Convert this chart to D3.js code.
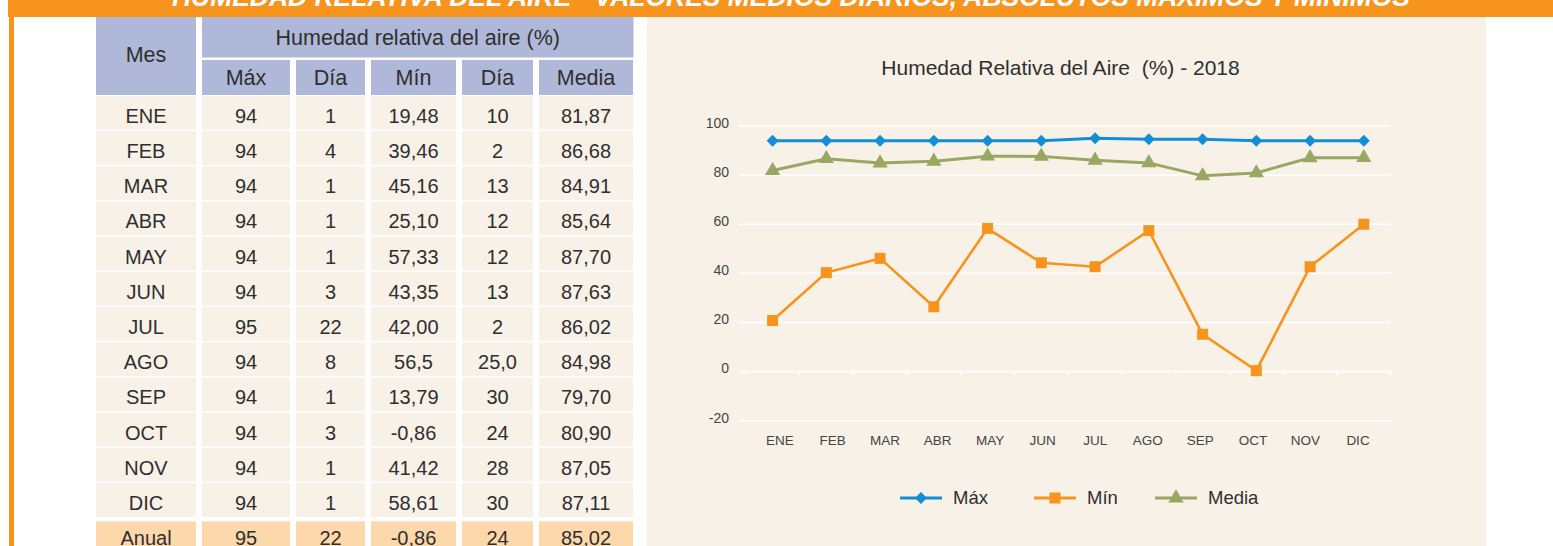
<!DOCTYPE html>
<html>
<head>
<meta charset="utf-8">
<script src="https://cdn.jsdelivr.net/npm/d3@7"></script>
<style>
html,body{margin:0;padding:0;background:#fff;}
svg{display:block;}
text{font-family:"Liberation Sans",Arial,sans-serif;white-space:pre;}
</style>
</head>
<body>
<svg id="c" width="1553" height="546"></svg>
<script>
// ---------- DATA ----------
const months = ["ENE","FEB","MAR","ABR","MAY","JUN","JUL","AGO","SEP","OCT","NOV","DIC"];
// table columns (as printed)
const tabMax   = ["94","94","94","94","94","94","95","94","94","94","94","94"];
const tabMaxDay= ["1","4","1","1","1","3","22","8","1","3","1","1"];
const tabMin   = ["19,48","39,46","45,16","25,10","57,33","43,35","42,00","56,5","13,79","-0,86","41,42","58,61"];
const tabMinDay= ["10","2","13","12","12","13","2","25,0","30","24","28","30"];
const tabMedia = ["81,87","86,68","84,91","85,64","87,70","87,63","86,02","84,98","79,70","80,90","87,05","87,11"];
const annualRow = ["Anual","95","22","-0,86","24","85,02"];
const headerCols = ["Máx","Día","Mín","Día","Media"];
// chart series
const serMax   = [94,94,94,94,94,94,95,94.6,94.6,94,94,94];
const serMin   = [20.8,40.3,46.1,26.4,58.3,44.3,42.7,57.4,15.2,0.4,42.7,60];
const serMedia = [81.87,86.68,84.91,85.64,87.70,87.63,86.02,84.98,79.70,80.90,87.05,87.11];
const yTicks = [-20,0,20,40,60,80,100];
const seriesNames = ["Máx","Mín","Media"];

// ---------- STYLE ----------
const ORANGE = "#F7941D";
const BLUE = "#128ED6";
const GREEN = "#98A862";
const HEAD = "#AFB8D8";
const ROWBG = "#F8F1E7";
const ANNUAL = "#FDD8AA";
const TXT = "#2f2f2f";

const svg = d3.select("#c");

// Banner
svg.append("rect").attr("x",8).attr("y",0).attr("width",1545).attr("height",17).attr("fill",ORANGE);
svg.append("text").attr("x",172).attr("y",5.5)
  .attr("textLength",1238).attr("lengthAdjust","spacingAndGlyphs")
  .attr("fill","#fff").attr("font-weight","bold").attr("font-style","italic")
  .attr("font-size",27)
  .text("HUMEDAD RELATIVA DEL AIRE - VALORES MEDIOS DIARIOS, ABSOLUTOS MÁXIMOS Y MÍNIMOS");
// left border
svg.append("rect").attr("x",9).attr("y",17).attr("width",5).attr("height",529).attr("fill",ORANGE);

// ---------- TABLE ----------
const colX = [96,202,296,371,462,539];
const colW = [100,88,69,85,71,94];
const rowTop = 96, rowPitch = 35.2, rowH = 33.7;
const tbl = svg.append("g");
// header
tbl.append("rect").attr("x",colX[0]).attr("y",17).attr("width",colW[0]).attr("height",78).attr("fill",HEAD);
tbl.append("rect").attr("x",202).attr("y",17).attr("width",633.5-202).attr("height",40.5).attr("fill",HEAD);
tbl.append("text").attr("x",colX[0]+colW[0]/2).attr("y",62).attr("text-anchor","middle")
  .attr("font-size",21.5).attr("fill",TXT).text("Mes");
tbl.append("text").attr("x",(202+633.5)/2).attr("y",44.5).attr("text-anchor","middle")
  .attr("font-size",21.5).attr("fill",TXT).text("Humedad relativa del aire (%)");
headerCols.forEach((h,i)=>{
  const j=i+1;
  tbl.append("rect").attr("x",colX[j]).attr("y",60).attr("width",colW[j]).attr("height",35).attr("fill",HEAD);
  tbl.append("text").attr("x",colX[j]+colW[j]/2).attr("y",85).attr("text-anchor","middle")
    .attr("font-size",21.5).attr("fill",TXT).text(h);
});
const rows = months.map((m,i)=>[m,tabMax[i],tabMaxDay[i],tabMin[i],tabMinDay[i],tabMedia[i]]);
rows.push(annualRow);
rows.forEach((r,ri)=>{
  const y = rowTop + ri*rowPitch;
  const last = ri===rows.length-1;
  r.forEach((v,ci)=>{
    tbl.append("rect").attr("x",colX[ci]).attr("y",last?y+3:y).attr("width",colW[ci]).attr("height",last?40:rowH)
      .attr("fill",last?ANNUAL:ROWBG);
    tbl.append("text").attr("x",colX[ci]+colW[ci]/2).attr("y",y+rowH/2+10)
      .attr("text-anchor","middle").attr("font-size",20).attr("fill",TXT).text(v);
  });
});

// ---------- CHART ----------
svg.append("rect").attr("x",647).attr("y",17).attr("width",1486-647).attr("height",529).attr("fill",ROWBG);
svg.append("text").attr("x",1060.5).attr("y",75).attr("text-anchor","middle")
  .attr("font-size",21).attr("fill",TXT).text("Humedad Relativa del Aire  (%) - 2018");

const y = d3.scaleLinear().domain([-20,100]).range([420.7,126]);
const x = d3.scaleBand().domain(months).range([745.7,1390.7]).padding(0);
const xl = d3.scalePoint().domain(months).range([780,1358]);
const cx = m => x(m)+x.bandwidth()/2;

const grid = svg.append("g");
yTicks.forEach(t=>{
  grid.append("line").attr("x1",739).attr("x2",1391).attr("y1",y(t)).attr("y2",y(t))
    .attr("stroke","#fff").attr("stroke-width",1.5);
  grid.append("text").attr("x",729).attr("y",y(t)-3).attr("dy","0.35em").attr("text-anchor","end")
    .attr("font-size",14).attr("fill","#444").text(t);
});
// category ticks on 0 line
const bounds = months.map(m=>x(m)).concat([x.range()[1]]);
bounds.forEach(b=>{
  grid.append("line").attr("x1",b).attr("x2",b).attr("y1",y(0)).attr("y2",y(0)+4)
    .attr("stroke","#fff").attr("stroke-width",1.5);
});
months.forEach(m=>{
  grid.append("text").attr("x",xl(m)).attr("y",445).attr("text-anchor","middle")
    .attr("font-size",13.5).attr("fill","#444").text(m);
});

const line = d3.line().x((d,i)=>cx(months[i])).y(d=>y(d));
const sym = {
  diamond: d3.symbol().type(d3.symbolDiamond2).size(90),
  square: d3.symbol().type(d3.symbolSquare).size(121),
  triangle: d3.symbol().type(d3.symbolTriangle).size(100)
};
function series(data,color,width,s){
  const g = svg.append("g");
  g.append("path").attr("d",line(data)).attr("fill","none").attr("stroke",color).attr("stroke-width",width);
  data.forEach((d,i)=>{
    g.append("path").attr("d",s()).attr("transform",`translate(${cx(months[i])},${y(d)})`).attr("fill",color);
  });
}
series(serMedia,GREEN,3,sym.triangle);
series(serMin,ORANGE,2.6,sym.square);
series(serMax,BLUE,3,sym.diamond);

// legend
const leg = [
  {name:seriesNames[0],color:BLUE,s:sym.diamond,x:900},
  {name:seriesNames[1],color:ORANGE,s:sym.square,x:1034},
  {name:seriesNames[2],color:GREEN,s:sym.triangle,x:1155}
];
leg.forEach(l=>{
  svg.append("line").attr("x1",l.x).attr("x2",l.x+42).attr("y1",498).attr("y2",498)
    .attr("stroke",l.color).attr("stroke-width",3);
  svg.append("path").attr("d",l.s()).attr("transform",`translate(${l.x+21},498)`).attr("fill",l.color);
  svg.append("text").attr("x",l.x+53).attr("y",498).attr("dy","0.35em")
    .attr("font-size",18.5).attr("fill",TXT).text(l.name);
});
</script>
</body>
</html>
